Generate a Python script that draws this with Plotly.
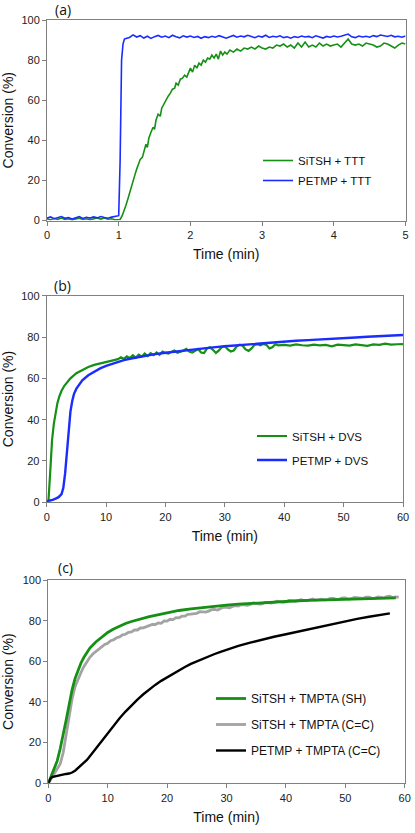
import plotly.graph_objects as go

W, H = 415, 833

# ---------------- Panel (a) data ----------------
a_blue_t = [0, 0.05, 0.1, 0.15, 0.2, 0.25, 0.3, 0.35, 0.4, 0.45, 0.5, 0.55, 0.6, 0.65, 0.7, 0.75,
            0.8, 0.85, 0.9, 0.95, 1.0, 1.02, 1.04, 1.06, 1.08, 1.1,
            1.15, 1.2, 1.25, 1.3, 1.35, 1.4, 1.45, 1.5, 1.55, 1.6, 1.65, 1.7, 1.75, 1.8, 1.85, 1.9, 1.95,
            2.0, 2.05, 2.1, 2.15, 2.2, 2.25, 2.3, 2.35, 2.4, 2.45, 2.5, 2.55, 2.6, 2.65, 2.7, 2.75, 2.8,
            2.85, 2.9, 2.95, 3.0, 3.05, 3.1, 3.15, 3.2, 3.25, 3.3, 3.35, 3.4, 3.45, 3.5, 3.55, 3.6, 3.65,
            3.7, 3.75, 3.8, 3.85, 3.9, 3.95, 4.0, 4.05, 4.1, 4.15, 4.2, 4.25, 4.3, 4.35, 4.4, 4.45, 4.5,
            4.55, 4.6, 4.65, 4.7, 4.75, 4.8, 4.85, 4.9, 4.95, 5.0]
a_blue_v = [1.2, 1.8, 0.9, 1.6, 2.0, 1.1, 1.5, 0.8, 1.4, 1.9, 1.0, 1.6, 1.2, 1.8, 1.3, 2.0,
            1.5, 1.1, 1.7, 1.9, 2.4, 30.0, 80.0, 88.0, 90.5, 90.8,
            91.3, 92.6, 91.5, 92.2, 91.0, 91.9, 90.8, 91.7, 92.3, 91.4, 92.0, 91.2, 92.4, 91.6, 91.1, 92.1, 91.5,
            92.0, 91.3, 91.8, 90.9, 91.7, 91.2, 91.9, 91.4, 92.2, 91.5, 90.9, 91.6, 92.3, 91.4, 92.0, 91.6, 92.4,
            91.8, 91.2, 92.0, 91.5, 92.4, 91.3, 91.9, 91.5, 92.1, 91.2, 91.6, 90.9, 91.7, 91.3, 92.0, 91.5, 91.8,
            91.2, 92.1, 91.6, 91.0, 91.8, 91.4, 92.0, 91.5, 91.9, 92.3, 93.0, 91.6, 91.2, 92.0, 91.5, 91.9, 91.4,
            92.2, 91.7, 92.5, 92.3, 91.8, 92.4, 91.6, 91.9, 91.4, 92.0]

a_green_t = [0, 0.05, 0.1, 0.15, 0.2, 0.25, 0.3, 0.35, 0.4, 0.45, 0.5, 0.55, 0.6, 0.65, 0.7, 0.75,
             0.8, 0.85, 0.9, 0.95, 1.0, 1.02, 1.05, 1.08, 1.1, 1.13, 1.16, 1.19, 1.22, 1.25, 1.28, 1.3,
             1.33, 1.36, 1.38, 1.4, 1.42, 1.45, 1.48, 1.5, 1.52, 1.55, 1.58, 1.6, 1.63, 1.66, 1.69, 1.72,
             1.75, 1.78, 1.8, 1.83, 1.86, 1.89, 1.92, 1.95, 1.98, 2.0, 2.03, 2.06, 2.09, 2.12, 2.15, 2.18,
             2.21, 2.24, 2.27, 2.3, 2.33, 2.36, 2.39, 2.42, 2.45, 2.48, 2.51, 2.55, 2.6, 2.65, 2.7, 2.75,
             2.8, 2.85, 2.9, 2.95, 3.0, 3.05, 3.1, 3.15, 3.2, 3.25, 3.3, 3.35, 3.4, 3.45, 3.5, 3.55, 3.6,
             3.65, 3.7, 3.75, 3.8, 3.85, 3.9, 3.95, 4.0, 4.05, 4.1, 4.15, 4.2, 4.25, 4.3, 4.35, 4.4, 4.45,
             4.5, 4.55, 4.6, 4.65, 4.7, 4.75, 4.8, 4.85, 4.9, 4.95, 5.0]
a_green_v = [0.8, 0.4, 1.0, 0.6, 1.2, 0.5, 0.9, 0.3, 0.8, 1.1, 0.5, 0.9, 0.4, 1.0, 1.3, 0.7,
             1.2, 0.6, 0.9, 0.4, 0.6, 0.5, 2.5, 5.0, 7.5, 11.0, 15.0, 19.0, 22.0, 25.5, 29.0, 30.5,
             31.5, 35.0, 38.0, 36.5, 41.0, 44.0, 46.5, 45.5, 50.0, 53.0, 52.0, 56.0, 58.0, 60.5, 62.0, 63.5,
             65.5, 66.0, 68.5, 67.5, 70.5, 71.0, 72.5, 71.5, 74.5, 76.0, 74.0, 77.5, 76.0, 78.5, 77.5, 80.0,
             79.0, 81.0, 80.5, 82.5, 81.0, 83.0, 80.5, 84.5, 82.5, 84.0, 83.0, 85.0, 84.0, 85.5, 84.5, 86.0,
             85.5, 86.5, 85.5, 87.0, 86.0, 85.5, 86.5, 86.0, 87.5, 87.0, 88.0, 86.5, 87.5, 86.0, 88.5, 86.5, 89.0,
             86.5, 87.5, 86.5, 88.5, 87.0, 88.0, 87.0, 87.5, 88.0, 86.5, 88.5, 90.5, 88.0, 87.5, 88.0, 87.0, 88.5,
             88.0, 87.5, 86.5, 87.0, 88.5, 88.0, 87.0, 86.0, 87.5, 88.5, 88.0]

# ---------------- Panel (b) data ----------------
b_green_t = [0, 0.3, 0.6, 0.9, 1.2, 1.5, 1.8, 2.1, 2.5, 3, 3.5, 4, 5, 6, 7, 8, 9, 10, 11,
             12, 12.5, 13, 13.5, 14, 14.5, 15, 15.5, 16, 16.5, 17, 17.5, 18, 18.5, 19, 19.5, 20, 20.5,
             21, 21.5, 22, 22.5, 23, 23.5, 24, 24.5, 25, 25.5, 26, 26.5, 27, 27.5, 28, 28.5, 29, 29.5,
             30, 30.5, 31, 31.5, 32, 32.5, 33, 33.5, 34, 34.5, 35, 35.5, 36, 36.5, 37, 37.5, 38, 38.5,
             39, 40, 41, 42, 43, 44, 45, 46, 47, 48, 49, 50, 51, 52, 53, 54, 55, 56, 57, 58, 59, 60]
b_green_v = [0.0, 1.0, 15.0, 30.0, 38.0, 44.0, 48.0, 51.0, 54.0, 56.5, 58.5, 60.0, 62.5, 64.2, 65.5, 66.5, 67.3, 68.0, 68.6,
             69.3, 70.2, 69.4, 70.6, 69.8, 71.2, 70.0, 71.5, 70.5, 72.0, 70.8, 72.2, 71.2, 72.5, 71.4, 73.0, 72.3, 72.0,
             72.8, 73.5, 72.4, 72.8, 73.4, 74.3, 73.0, 72.5, 73.5, 74.2, 72.5, 72.2, 74.5, 75.0, 73.8, 72.3, 73.5, 75.2,
             75.6, 74.0, 73.0, 73.5, 75.5, 76.3, 75.8, 74.0, 73.3, 74.5, 76.2, 76.5, 76.0, 76.7, 76.2, 74.5, 75.0, 76.5,
             76.0, 76.2, 75.8, 76.4, 76.0, 75.8, 76.3, 76.0, 76.2, 75.5, 76.3, 76.0, 75.8, 76.4, 76.1, 75.7, 76.4, 76.2, 76.8, 76.3, 76.5, 76.6]

b_blue_t = [0, 0.5, 1, 1.5, 2, 2.5, 2.8, 3.1, 3.4, 3.7, 4, 4.3, 4.6, 5, 5.5, 6, 7, 8, 9, 10, 11, 12, 13,
            14, 15, 16, 18, 20, 22, 24, 26, 28, 30, 32, 34, 36, 38, 40, 42, 44, 46, 48, 50, 52, 54, 56, 58, 60]
b_blue_v = [0.5, 0.8, 1.2, 1.8, 2.5, 4.0, 7.0, 14.0, 25.0, 36.0, 44.0, 49.0, 52.5, 55.0, 57.3, 59.0, 61.5, 63.3, 64.8, 66.0, 67.0, 68.0, 68.8,
            69.5, 70.1, 70.6, 71.6, 72.4, 73.1, 73.8, 74.4, 75.0, 75.5, 76.0, 76.5, 77.0, 77.4, 77.8, 78.2, 78.5, 78.9, 79.2, 79.5, 79.8, 80.1, 80.3, 80.6, 81.0]

# ---------------- Panel (c) data ----------------
c_green_t = [0, 0.5, 1, 1.5, 2, 2.5, 3, 3.5, 4, 4.5, 5, 5.5, 6, 7, 8, 9, 10, 11, 12, 13, 14, 15, 16, 17, 18,
             20, 22, 24, 26, 28, 30, 32, 34, 36, 38, 40, 42, 44, 46, 48, 50, 52, 54, 56, 58.5]
c_green_v = [0.0, 3.5, 7.0, 11.0, 17.0, 23.5, 31.0, 38.5, 46.0, 51.5, 55.5, 59.2, 62.0, 66.5, 69.5, 72.0, 74.2, 75.9, 77.3, 78.6, 79.6, 80.5, 81.3, 82.0, 82.6,
             83.8, 85.0, 85.8, 86.5, 87.1, 87.6, 88.1, 88.5, 88.9, 89.2, 89.5, 89.8, 90.0, 90.2, 90.4, 90.6, 90.8, 90.9, 91.0, 91.2]

c_gray_t = [0, 0.5, 1, 1.5, 2, 2.5, 3, 3.5, 4, 4.5, 5, 5.5, 6, 6.5, 7, 7.5, 8, 8.5, 9, 9.5, 10, 10.5, 11, 11.5,
            12, 12.5, 13, 13.5, 14, 14.5, 15, 15.5, 16, 16.5, 17, 17.5, 18, 18.5, 19, 19.5, 20, 20.5, 21, 21.5,
            22, 22.5, 23, 23.5, 24, 24.5, 25, 25.5, 26, 26.5, 27, 27.5, 28, 28.5, 29, 29.5, 30, 30.5, 31, 31.5,
            32, 32.5, 33, 33.5, 34, 34.5, 35, 35.5, 36, 36.5, 37, 37.5, 38, 38.5, 39, 39.5, 40, 40.5, 41, 41.5,
            42, 42.5, 43, 43.5, 44, 44.5, 45, 45.5, 46, 46.5, 47, 47.5, 48, 48.5, 49, 49.5, 50, 50.5, 51, 51.5,
            52, 52.5, 53, 53.5, 54, 54.5, 55, 55.5, 56, 56.5, 57, 57.5, 58, 58.5, 59]
c_gray_v = [0.0, 2.5, 5.0, 7.0, 9.5, 15.0, 24.0, 34.0, 41.5, 47.5, 51.5, 54.5, 57.5, 60.0, 62.0, 63.6, 64.8, 66.2, 67.0, 68.3, 68.9, 70.1, 70.6, 71.6,
            72.0, 73.0, 73.3, 74.3, 74.5, 75.4, 75.4, 76.4, 76.5, 77.1, 77.3, 78.2, 78.1, 78.9, 78.7, 79.9, 79.8, 80.7, 80.5, 81.5,
            81.4, 82.2, 82.2, 83.1, 83.2, 83.4, 83.6, 84.4, 84.4, 84.2, 84.7, 85.4, 85.5, 85.2, 86.0, 86.6, 86.5, 86.3, 87.0, 87.4,
            87.2, 87.9, 87.8, 87.5, 88.0, 88.7, 88.5, 88.1, 88.3, 89.0, 88.9, 88.6, 89.0, 89.6, 89.4, 89.0, 89.2, 89.9, 89.8, 89.5,
            89.7, 90.3, 90.0, 89.8, 90.3, 90.7, 90.1, 90.4, 90.6, 90.2, 90.4, 91.0, 91.0, 90.5, 90.6, 91.2, 91.2, 90.6, 90.8, 91.4,
            91.3, 90.9, 91.0, 91.6, 91.6, 91.0, 91.1, 91.7, 91.5, 91.2, 91.8, 92.0, 91.3, 91.7, 91.6]

c_black_t = [0, 0.3, 0.6, 1, 1.5, 2, 2.5, 3, 3.5, 4, 4.5, 5, 5.5, 6, 6.5, 7, 7.5, 8, 8.5, 9, 9.5, 10,
             11, 12, 13, 14, 15, 16, 17, 18, 19, 20, 21, 22, 23, 24, 25, 26, 27, 28, 29, 30,
             32, 34, 36, 38, 40, 42, 44, 46, 48, 50, 52, 54, 56, 57.5]
c_black_v = [0.0, 2.0, 3.0, 3.3, 3.8, 4.0, 4.3, 4.6, 4.8, 5.3, 6.2, 7.5, 8.7, 10.0, 11.5, 13.3, 15.2, 17.2, 19.2, 21.0, 23.0, 25.0,
             28.6, 32.0, 35.3, 38.5, 41.2, 43.8, 46.2, 48.4, 50.4, 52.2, 54.0, 55.6, 57.2, 58.7, 60.0, 61.3, 62.6, 63.6, 64.7, 65.8,
             67.6, 69.2, 70.8, 72.1, 73.3, 74.6, 75.9, 77.0, 78.4, 79.7, 80.9, 81.9, 82.9, 83.6]

# ---------------- styling ----------------
GREEN = "#159015"
BLUE = "#1a2cff"
GRAY = "#a3a3a3"
BLACK = "#000000"
FRAME = "#808080"
FONT = "Liberation Sans"


def px_x(p):
    return p / W


def px_y(p):
    return 1 - p / H


fig = go.Figure()

# panel a
fig.add_trace(go.Scatter(x=a_green_t, y=a_green_v, mode="lines", name="SiTSH + TTT",
                         line=dict(color=GREEN, width=1.6), xaxis="x", yaxis="y",
                         legend="legend", legendgroup="a1"))
fig.add_trace(go.Scatter(x=a_blue_t, y=a_blue_v, mode="lines", name="PETMP + TTT",
                         line=dict(color=BLUE, width=1.6), xaxis="x", yaxis="y",
                         legend="legend", legendgroup="a2"))
# panel b
fig.add_trace(go.Scatter(x=b_green_t, y=b_green_v, mode="lines", name="SiTSH + DVS",
                         line=dict(color=GREEN, width=2.2), xaxis="x2", yaxis="y2",
                         legend="legend2", legendgroup="b1"))
fig.add_trace(go.Scatter(x=b_blue_t, y=b_blue_v, mode="lines", name="PETMP + DVS",
                         line=dict(color=BLUE, width=2.4), xaxis="x2", yaxis="y2",
                         legend="legend2", legendgroup="b2"))
# panel c
fig.add_trace(go.Scatter(x=c_gray_t, y=c_gray_v, mode="lines", name="SiTSH + TMPTA (C=C)",
                         line=dict(color=GRAY, width=2.8), xaxis="x3", yaxis="y3",
                         legend="legend3", legendgroup="c2", legendrank=2))
fig.add_trace(go.Scatter(x=c_green_t, y=c_green_v, mode="lines", name="SiTSH + TMPTA (SH)",
                         line=dict(color=GREEN, width=2.8), xaxis="x3", yaxis="y3",
                         legend="legend3", legendgroup="c1", legendrank=1))
fig.add_trace(go.Scatter(x=c_black_t, y=c_black_v, mode="lines", name="PETMP + TMPTA (C=C)",
                         line=dict(color=BLACK, width=2.4), xaxis="x3", yaxis="y3",
                         legend="legend3", legendgroup="c3", legendrank=3))

tickfont = dict(family=FONT, size=11, color="#222222")
titlefont = dict(family=FONT, size=14, color="#111111")


def xax(domain, rng, dtick, anchor):
    return dict(domain=domain, range=rng, dtick=dtick, anchor=anchor, automargin=False,
                showline=True, mirror=True, linecolor=FRAME, linewidth=1,
                ticks="outside", ticklen=4, tickcolor=FRAME, showgrid=False, zeroline=False,
                tickfont=tickfont, title=dict(text="Time (min)", font=titlefont, standoff=9))


def yax(domain, anchor):
    return dict(domain=domain, range=[0, 100], dtick=20, anchor=anchor, automargin=False,
                showline=True, mirror=True, linecolor=FRAME, linewidth=1,
                ticks="outside", ticklen=4, tickcolor=FRAME, showgrid=False, zeroline=False,
                tickfont=tickfont, title=dict(text="Conversion (%)", font=titlefont, standoff=6))


legfont = dict(family=FONT, size=11.5, color="#111111")
labfont = dict(family="Open Sans", size=14, color="#111111")

fig.update_layout(
    width=W, height=H, autosize=False,
    margin=dict(l=0, r=0, t=0, b=0, pad=0),
    paper_bgcolor="white", plot_bgcolor="white",
    xaxis=xax([px_x(47), px_x(405.5)], [0, 5], 1, "y"),
    yaxis=yax([px_y(220.5), px_y(20)], "x"),
    xaxis2=xax([px_x(46.7), px_x(403)], [0, 60], 10, "y2"),
    yaxis2=yax([px_y(502.3), px_y(295.7)], "x2"),
    xaxis3=xax([px_x(48.3), px_x(404.7)], [0, 60], 10, "y3"),
    yaxis3=yax([px_y(783.3), px_y(580)], "x3"),
    legend=dict(x=px_x(258), y=px_y(146), xanchor="left", yanchor="top", font=legfont,
                bgcolor="rgba(0,0,0,0)", traceorder="grouped", tracegroupgap=1),
    legend2=dict(x=px_x(252), y=px_y(421.5), xanchor="left", yanchor="top", font=legfont,
                 bgcolor="rgba(0,0,0,0)", traceorder="grouped", tracegroupgap=5),
    legend3=dict(x=px_x(211), y=px_y(684), xanchor="left", yanchor="top",
                 font=dict(family=FONT, size=12, color="#111111"),
                 bgcolor="rgba(0,0,0,0)", traceorder="grouped", tracegroupgap=7),
    showlegend=True,
    annotations=[
        dict(text="(a)", x=px_x(63), y=px_y(9), xref="paper", yref="paper", showarrow=False,
             xanchor="center", yanchor="middle", font=labfont),
        dict(text="(b)", x=px_x(62), y=px_y(285), xref="paper", yref="paper", showarrow=False,
             xanchor="center", yanchor="middle", font=labfont),
        dict(text="(c)", x=px_x(65), y=px_y(567), xref="paper", yref="paper", showarrow=False,
             xanchor="center", yanchor="middle", font=labfont),
    ],
)

fig.write_html("out.html", config={"displayModeBar": False},
               post_script="document.body.style.margin='0';document.body.style.overflow='hidden';")
